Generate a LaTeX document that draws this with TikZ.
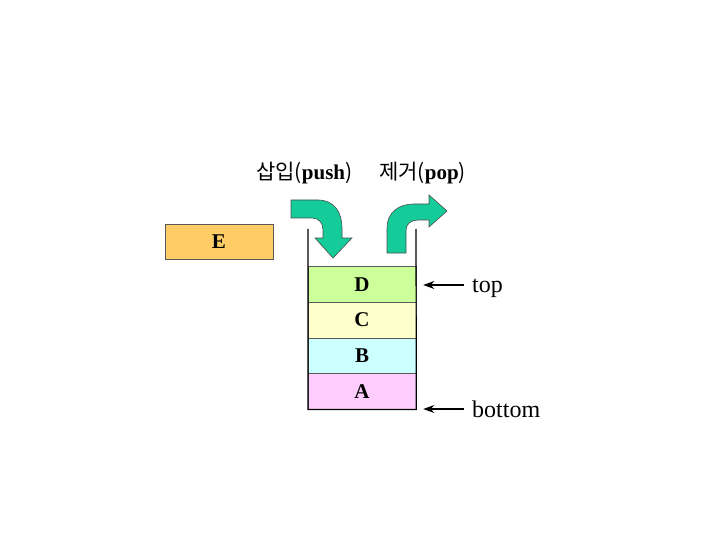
\documentclass[tikz,border=0pt]{standalone}
\usepackage{fontspec}
\setmainfont{Liberation Serif}
\newfontfamily\kor{Noto Sans CJK KR}
\usetikzlibrary{arrows.meta}
\definecolor{arrgreen}{RGB}{20,204,153}
\definecolor{cD}{RGB}{204,255,153}
\definecolor{cC}{RGB}{255,255,204}
\definecolor{cB}{RGB}{204,255,255}
\definecolor{cA}{RGB}{255,204,255}
\definecolor{cE}{RGB}{255,204,102}
\tikzset{
  cell/.style={draw=gray!70!black, line width=0.6pt, minimum width=108pt, minimum height=35.6pt, inner sep=0pt, font=\fontsize{21}{21}\selectfont\bfseries},
  bigarrow/.style={fill=arrgreen, draw=black!70, line width=0.6pt},
  ptr/.style={-{Stealth[length=11pt,width=8pt]}, line width=1.1pt, shorten >=7pt},
  lbl/.style={font=\fontsize{24}{24}\selectfont, anchor=base west, inner sep=0pt},
  head/.style={font=\fontsize{21}{21}\selectfont, inner sep=0pt, anchor=base west}
}
\begin{document}
\begin{tikzpicture}[x=1pt,y=-1pt]
\useasboundingbox (0,0) rectangle (720,540);
% stack cells
\node[cell, fill=cD] (D) at (362,284.5) {D};
\node[cell, fill=cC] (C) at (362,320.1) {C};
\node[cell, fill=cB] (B) at (362,355.7) {B};
\node[cell, fill=cA] (A) at (362,391.3) {A};
% container walls
\coordinate (wl) at (308,229);
\coordinate (wr) at (416,229);
\draw[line width=1.2pt] (wl) |- (A.south east) -- (wr);
% element E
\node[cell, fill=cE, minimum width=108pt, minimum height=35pt] (E) at (219,242) {E};
% push arrow
\path[bigarrow] (291,200) -- (318,200) .. controls (334,200) and (342,212) .. (342,228) -- (342,238) -- (352,238) -- (333,258) -- (315,238) -- (323,238) -- (323,230) .. controls (323,223) and (319,218) .. (312,218) -- (291,218) -- cycle;
% pop arrow
\path[bigarrow] (387,253) -- (387,228) .. controls (387,213) and (398,204) .. (414,204) -- (429,204) -- (429,195) -- (447,211) -- (429,227) -- (429,220) -- (418,220) .. controls (411,220) and (406,224) .. (406,230) -- (406,253) -- cycle;
% labels
\node[head] (push) at (256,180) {{\kor 삽입(}\textbf{push}{\kor )}};
\node[head] (pop) at (379,180) {{\kor 제거(}\textbf{pop}{\kor )}};
% pointers
\node[lbl] (top) at (472,292) {top};
\node[lbl] (bottom) at (472,417) {bottom};
\coordinate (ts) at (464,285);
\coordinate (bs) at (464,409);
\draw[ptr] (ts) -- (ts -| D.east);
\draw[ptr] (bs) -- (bs -| A.east);
\end{tikzpicture}
\end{document}
